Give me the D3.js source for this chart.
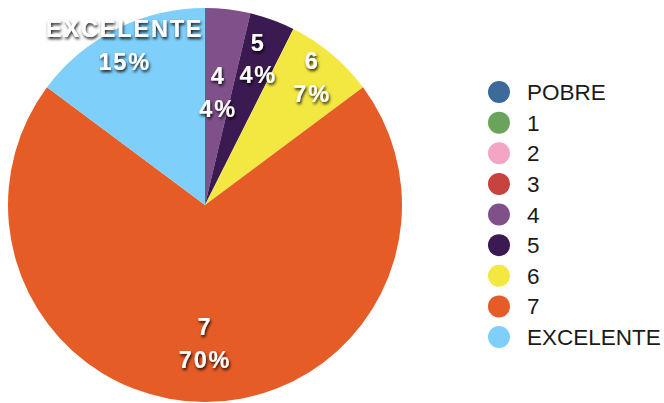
<!DOCTYPE html>
<html>
<head>
<meta charset="utf-8">
<script src="https://cdn.jsdelivr.net/npm/d3@7"></script>
<style>
	body { margin: 0; background: #fff; }
	svg { display: block; }
</style>
</head>
<body>
<div id="chart"></div>
<script>
// categories and response counts
var categories = ["POBRE", "1", "2", "3", "4", "5", "6", "7", "EXCELENTE"];
var counts = [0, 0, 0, 0, 1, 1, 2, 19, 4];
var colors = ["#3b6a9b", "#6aa35b", "#f4a5c3", "#c8433f", "#80508a", "#3b1a52", "#f3e841", "#e65c26", "#7ecffa"];

var width = 664, height = 403;
var cx = 205, cy = 205, radius = 197;

// where the label of each slice sits, as a fraction of the radius
var labelRadius = { "4": 0.575, "5": 0.79, "6": 0.846, "7": 0.70, "EXCELENTE": 0.908 };

var svg = d3.select("#chart").append("svg")
	.attr("width", width)
	.attr("height", height);

// text shadow for the slice labels
var filter = svg.append("defs").append("filter")
	.attr("id", "shadow")
	.attr("x", "-20%").attr("y", "-40%")
	.attr("width", "140%").attr("height", "180%");
filter.append("feDropShadow")
	.attr("dx", 1).attr("dy", 2)
	.attr("stdDeviation", 1.8)
	.attr("flood-color", "#000")
	.attr("flood-opacity", 0.9);

var color = d3.scaleOrdinal().domain(categories).range(colors);

var data = categories.map(function (c, i) {
	return { name: c, value: counts[i] };
});
var total = d3.sum(counts);

var pie = d3.pie()
	.sort(null)
	.value(function (d) { return d.value; });

var arc = d3.arc().innerRadius(0).outerRadius(radius);

var g = svg.append("g")
	.attr("transform", "translate(" + cx + "," + cy + ")");

var arcs = pie(data);

g.selectAll("path")
	.data(arcs)
	.enter()
	.append("path")
	.attr("d", arc)
	.style("fill", function (d) { return color(d.data.name); });

// labels
var labels = g.selectAll(".label")
	.data(arcs.filter(function (d) { return d.value > 0; }))
	.enter()
	.append("text")
	.attr("class", "label")
	.attr("transform", function (d) {
		var r = radius * labelRadius[d.data.name];
		var a = (d.startAngle + d.endAngle) / 2;
		return "translate(" + (Math.sin(a) * r) + "," + (-Math.cos(a) * r) + ")";
	})
	.attr("text-anchor", "middle")
	.attr("font-family", "'Liberation Sans', Arial, sans-serif")
	.attr("font-weight", "bold")
	.attr("font-size", 23.5)
	.attr("letter-spacing", 1.8)
	.style("fill", "#fff")
	.attr("filter", "url(#shadow)");

labels.append("tspan")
	.attr("x", 0)
	.attr("dy", "-0.35em")
	.text(function (d) { return d.data.name; });

labels.append("tspan")
	.attr("x", 0)
	.attr("dy", "1.4em")
	.text(function (d) { return Math.round(d.value / total * 100) + "%"; });

// legend
var y = d3.scalePoint()
	.domain(categories)
	.range([92, 337]);

var legend = svg.append("g")
	.selectAll(".legend")
	.data(categories)
	.enter()
	.append("g")
	.attr("class", "legend")
	.attr("transform", function (d) { return "translate(499," + y(d) + ")"; });

legend.append("circle")
	.attr("r", 11)
	.style("fill", function (d) { return color(d); });

legend.append("text")
	.attr("x", 28)
	.attr("dy", "0.36em")
	.attr("font-family", "'Liberation Sans', Arial, sans-serif")
	.attr("font-size", 22.5)
	.style("fill", "#1a1a1a")
	.text(function (d) { return d; });
</script>
</body>
</html>
